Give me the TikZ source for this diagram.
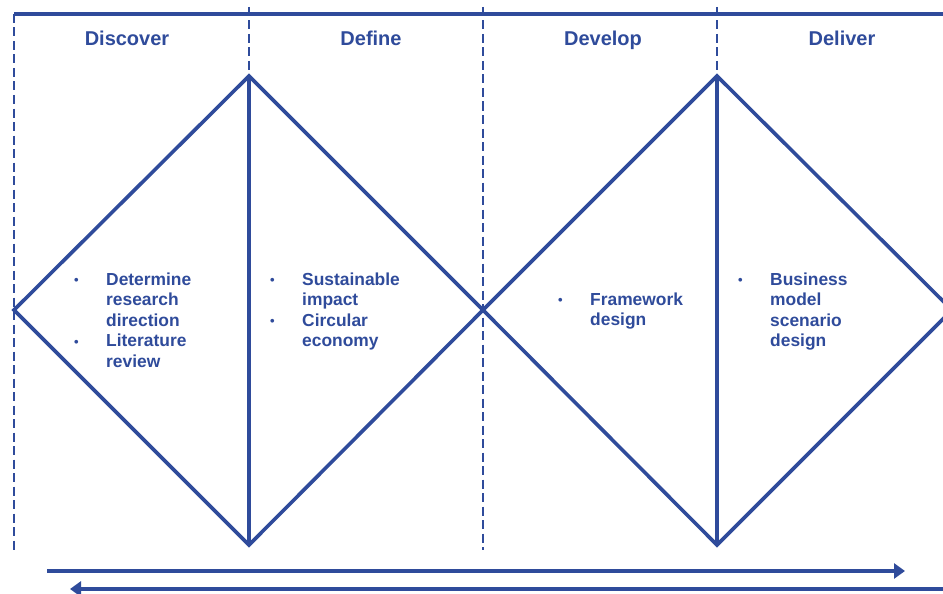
\documentclass[tikz,border=0pt]{standalone}
\usepackage{fontspec}
\setmainfont{Liberation Sans}
\usetikzlibrary{arrows.meta}
\definecolor{dblue}{RGB}{47,75,155}
\tikzset{
  solidline/.style={draw=dblue, line width=3.6pt, line join=miter},
  dashline/.style={draw=dblue, line width=2.6pt, dash pattern=on 9pt off 4.5pt},
  phasetitle/.style={text=dblue, font=\bfseries\fontsize{20}{24}\selectfont, anchor=base, inner sep=0pt},
  bodytext/.style={text=dblue, font=\bfseries\fontsize{17.4}{20.5}\selectfont, anchor=base west, inner sep=0pt},
  flow/.style={draw=dblue, line width=4.5pt, -{Triangle[length=11pt,width=15pt]}},
}
\newcommand{\bul}{\raisebox{0.5pt}{\fontsize{13}{13}\selectfont\textbullet}}
\begin{document}
\begin{tikzpicture}[x=1pt,y=-1pt]
  \clip (0,0) rectangle (943,594);
  \fill[white] (0,0) rectangle (943,594);
  % key points
  \coordinate (tl) at (14,14);
  \coordinate (tr) at (943,14);
  \coordinate (d0top) at (14,14);
  \coordinate (d0bot) at (14,550);
  \coordinate (d1top) at (249,7);
  \coordinate (d2top) at (483,7);
  \coordinate (d2bot) at (483,550);
  \coordinate (d3top) at (717,7);
  % diamonds
  \coordinate (L) at (14,310);
  \coordinate (T1) at (249,76);
  \coordinate (B1) at (249,545);
  \coordinate (M) at (483,310);
  \coordinate (T2) at (717,76);
  \coordinate (B2) at (717,545);
  \coordinate (R) at (952,310);
  % dashed phase dividers
  \draw[dashline] (d0top) -- (d0bot);
  \draw[dashline] (d1top) -- (T1);
  \draw[dashline] (d2top) -- (d2bot);
  \draw[dashline] (d3top) -- (T2);
  % top line
  \draw[solidline] (tl) -- (tr);
  % diamonds
  \draw[solidline] (L) -- (T1) -- (M) -- (B1) -- cycle;
  \draw[solidline] (T1) -- (B1);
  \draw[solidline] (M) -- (T2) -- (R) -- (B2) -- cycle;
  \draw[solidline] (T2) -- (B2);
  % titles
  \node[phasetitle] (discover) at (127,46) {Discover};
  \node[phasetitle] (define) at (371,46) {Define};
  \node[phasetitle] (develop) at (603,46) {Develop};
  \node[phasetitle] (deliver) at (842,46) {Deliver};
  % body texts
  \node[bodytext] (t1) at (74,285) {\begin{tabular}[t]{@{}p{32pt}@{}l@{}}
    \bul & Determine\\ & research\\ & direction\\ \bul & Literature\\ & review\end{tabular}};
  \node[bodytext] (t2) at (270,285) {\begin{tabular}[t]{@{}p{32pt}@{}l@{}}
    \bul & Sustainable\\ & impact\\ \bul & Circular\\ & economy\end{tabular}};
  \node[bodytext] (t3) at (558,305) {\begin{tabular}[t]{@{}p{32pt}@{}l@{}}
    \bul & Framework\\ & design\end{tabular}};
  \node[bodytext] (t4) at (738,285) {\begin{tabular}[t]{@{}p{32pt}@{}l@{}}
    \bul & Business\\ & model\\ & scenario\\ & design\end{tabular}};
  % flow arrows
  \coordinate (a1s) at (47,571);
  \coordinate (a1e) at (905,571);
  \coordinate (a2s) at (943,589);
  \coordinate (a2e) at (70,589);
  \draw[flow] (a1s) -- (a1e);
  \draw[flow] (a2s) -- (a2e);
\end{tikzpicture}
\end{document}
